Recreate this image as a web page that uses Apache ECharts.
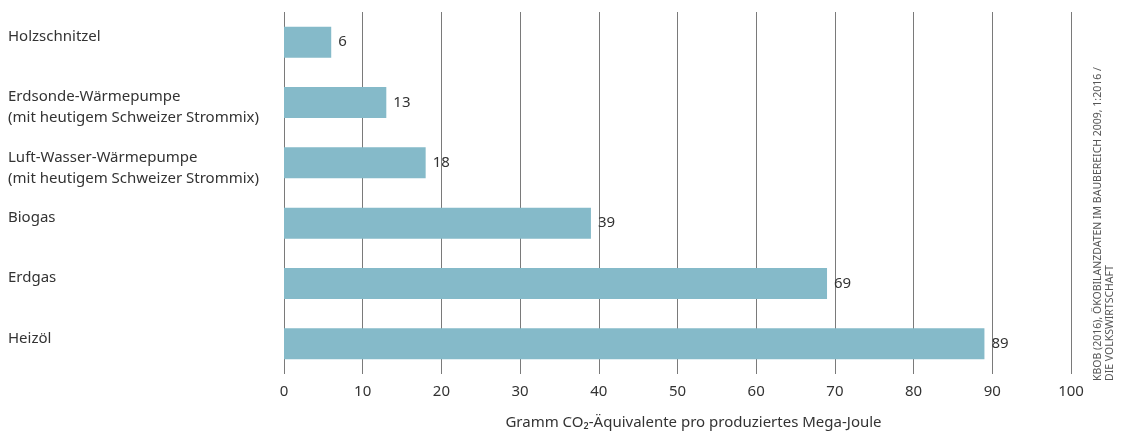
<!DOCTYPE html>
<html>
<head>
<meta charset="utf-8">
<script src="https://cdn.jsdelivr.net/npm/echarts@6/dist/echarts.min.js"></script>
<style>
  html, body { margin: 0; padding: 0; background: #fff; }
  #chart { width: 1133px; height: 435px; }
</style>
</head>
<body>
<div id="chart"></div>
<script>
const categories = [
    'Holzschnitzel',
    'Erdsonde-Wärmepumpe\n(mit heutigem Schweizer Strommix)',
    'Luft-Wasser-Wärmepumpe\n(mit heutigem Schweizer Strommix)',
    'Biogas',
    'Erdgas',
    'Heizöl'
];
const values = [6, 13, 18, 39, 69, 89];
const axisTitle = 'Gramm CO₂-Äquivalente pro produziertes Mega-Joule';
const sourceLines = [
    'KBOB (2016), ÖKOBILANZDATEN IM BAUBEREICH 2009, 1:2016 /',
    'DIE VOLKSWIRTSCHAFT'
];

const font = '"Noto Sans", "Open Sans", sans-serif';

let chart = echarts.init(document.getElementById('chart'));
let option = {
    animation: false,
    grid: { left: 284, right: 62, top: 12, bottom: 58 },
    xAxis: {
        type: 'value',
        min: 0,
        max: 100,
        interval: 10,
        axisLine: { show: false },
        axisTick: { show: false },
        splitLine: { show: true, lineStyle: { color: '#7a7a7a', width: 1 } },
        axisLabel: { color: '#333', fontSize: 15, fontFamily: font, margin: 10 },
        name: axisTitle,
        nameLocation: 'middle',
        nameGap: 41,
        nameTextStyle: { color: '#333', fontSize: 15, fontFamily: font, padding: [0, 0, 0, 32] }
    },
    yAxis: {
        type: 'category',
        data: categories,
        inverse: true,
        axisLine: { show: false },
        axisTick: { show: false },
        axisLabel: {
            align: 'left',
            verticalAlign: 'top',
            margin: 276,
            padding: [-16, 0, 0, 0],
            lineHeight: 21,
            color: '#333',
            fontSize: 15,
            fontFamily: font
        }
    },
    series: [{
        type: 'bar',
        data: values,
        barWidth: 31,
        itemStyle: { color: '#85bac9' },
        label: {
            show: true,
            position: 'right',
            distance: 7,
            color: '#333',
            fontSize: 15,
            fontFamily: font,
            padding: [5, 0, 0, 0]
        }
    }],
    graphic: sourceLines.map((t, i) => ({
        type: 'text',
        x: 1098 + i * 12,
        y: 381,
        rotation: Math.PI / 2,
        style: {
            text: t,
            fill: '#555',
            font: '10.5px ' + font,
            textAlign: 'left',
            textVerticalAlign: 'middle'
        }
    }))
};
chart.setOption(option);
</script>
</body>
</html>
